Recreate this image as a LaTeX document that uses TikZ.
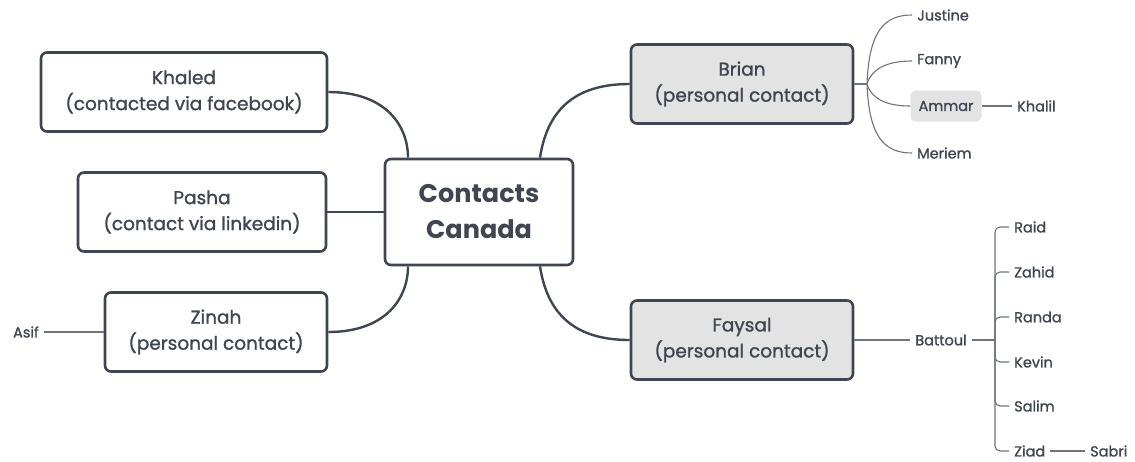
\documentclass[tikz,border=0pt]{standalone}
\usepackage{fontspec}
\setmainfont{Poppins}
\newfontfamily\medfont[FakeBold=1.2]{Poppins}
\definecolor{ink}{HTML}{3F4551}
\definecolor{thin}{HTML}{6E737C}
\definecolor{greyfill}{HTML}{E3E3E3}
\begin{document}
\begin{tikzpicture}[x=1pt,y=-1pt,
  box/.style={draw=ink,line width=2.6pt,rounded corners=6pt,fill=white,text=ink,
    align=center,font=\medfont\fontsize{18.5}{26}\selectfont,inner sep=0pt},
  mainbox/.style={box,minimum width=188pt,minimum height=106pt,font=\fontsize{25.5}{36}\selectfont\bfseries},
  leaf/.style={text=ink,font=\medfont\fontsize{14.5}{16}\selectfont,inner xsep=5pt,inner ysep=2pt},
  thick/.style={draw=ink,line width=2.4pt},
  thinl/.style={draw=thin,line width=1.1pt}]
\useasboundingbox (0,0) rectangle (1135,461);
% main
\node[mainbox] (c) at (479,212) {Contacts\\Canada};
\node[box,minimum width=286pt,minimum height=79pt] (kh) at (184,92) {Khaled\\(contacted via facebook)};
\node[box,minimum width=248pt,minimum height=79pt] (pa) at (202,212) {Pasha\\(contact via linkedin)};
\node[box,minimum width=222pt,minimum height=79pt] (zi) at (216,332) {Zinah\\(personal contact)};
\node[box,fill=greyfill,minimum width=222pt,minimum height=79pt] (br) at (742,84) {Brian\\(personal contact)};
\node[box,fill=greyfill,minimum width=222pt,minimum height=79pt] (fa) at (742,340) {Faysal\\(personal contact)};
% main connectors
\draw[thick] (kh.east) .. controls (385,92) and (408,125) .. ([xshift=-71pt]c.north);
\draw[thick] (pa.east) -- (c.west);
\draw[thick] (zi.east) .. controls (385,332) and (408,299) .. ([xshift=-71pt]c.south);
\draw[thick] ([xshift=61pt]c.north) .. controls (548,105) and (580,84) .. (br.west);
\draw[thick] ([xshift=61pt]c.south) .. controls (548,319) and (580,340) .. (fa.west);
% Brian children
\node[leaf,anchor=west] (ju) at (912,15) {Justine};
\node[leaf,anchor=west] (fn) at (912,61) {Fanny};
\node[leaf,anchor=center,fill=greyfill,rounded corners=5pt,minimum width=71pt,minimum height=31pt] (am) at (946,106) {Ammar};
\node[leaf,anchor=west] (me) at (912,153) {Meriem};
\node[leaf,anchor=west] (kl) at (1012,106) {Khalil};
\coordinate (bj) at (867,84);
\draw[thinl] (br.east) -- (bj);
\draw[thinl] (bj) .. controls (869,30) and (885,15) .. (ju.west);
\draw[thinl] (bj) .. controls (872,68) and (888,61) .. (fn.west);
\draw[thinl] (bj) .. controls (872,100) and (888,106) .. (am.west);
\draw[thinl] (bj) .. controls (869,138) and (885,153) .. (me.west);
\draw[thinl] (am.east) -- (kl.west);
% Asif
\node[leaf,anchor=east] (as) at (44,332) {Asif};
\draw[thinl] (zi.west) -- (as.east);
% Faysal children
\node[leaf] (ba) at (941,340) {Battoul};
\draw[thinl] (fa.east) -- (ba.west);
\coordinate (fj) at (995,340);
\draw[thinl] (ba.east) -- (fj);
\node[leaf,anchor=west] (ra) at (1009,227) {Raid};
\node[leaf,anchor=west] (za) at (1009,272) {Zahid};
\node[leaf,anchor=west] (rn) at (1009,317) {Randa};
\node[leaf,anchor=west] (ke) at (1009,362) {Kevin};
\node[leaf,anchor=west] (sa) at (1009,406) {Salim};
\node[leaf,anchor=west] (zd) at (1009,451) {Ziad};
\node[leaf,anchor=west] (sb) at (1085,451) {Sabri};
\foreach \n in {ra,za,rn,ke,sa,zd}
  \draw[thinl,rounded corners=5pt] (\n.west) -| (fj);
\draw[thinl] (zd.east) -- (sb.west);
\end{tikzpicture}
\end{document}
